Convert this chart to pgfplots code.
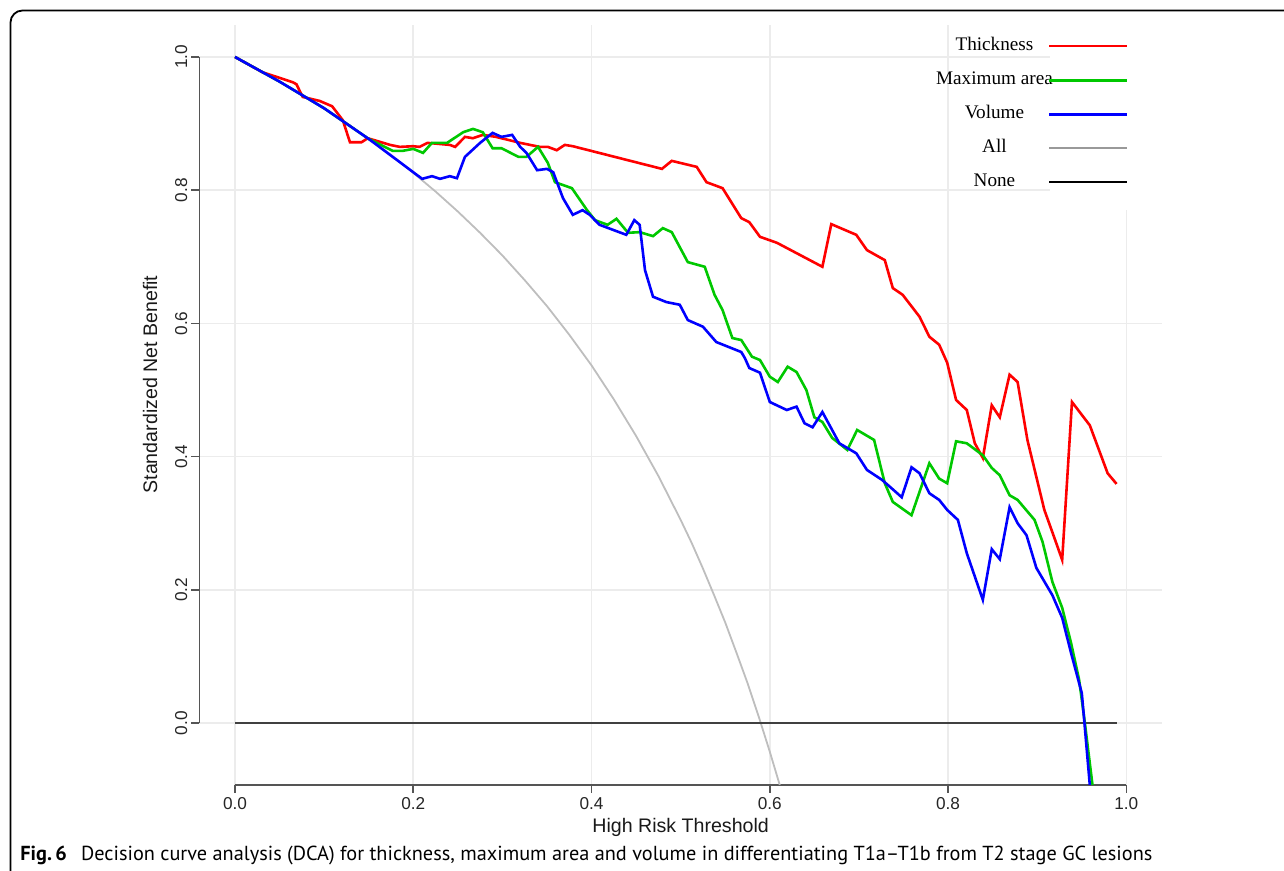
\documentclass[border=0pt]{standalone}
\usepackage{fontspec}
\setmainfont{Liberation Sans}
\newfontfamily\legfont{Liberation Serif}
\newfontfamily\capfont{PT Sans}
\usepackage{pgfplots}
\pgfplotsset{compat=1.18}
\definecolor{dcared}{RGB}{255,0,0}
\definecolor{dcagreen}{RGB}{0,200,0}
\definecolor{dcablue}{RGB}{0,0,255}
\definecolor{dcagray}{RGB}{190,190,190}
\definecolor{gridgray}{RGB}{236,236,236}
\definecolor{axisgray}{RGB}{85,85,85}
\begin{document}
\begin{tikzpicture}
\useasboundingbox (0,0) rectangle (642pt,435.5pt);
\begin{axis}[
  at={(99.65pt,43pt)}, anchor=south west, scale only axis,
  width=481.35pt, height=380pt,
  xmin=-0.04, xmax=1.04, ymin=-0.093, ymax=1.048,
  clip mode=individual,
  axis line style={draw=none},
  xtick={0,0.2,0.4,0.6,0.8,1},
  ytick={0,0.2,0.4,0.6,0.8,1},
  xticklabels={0.0,0.2,0.4,0.6,0.8,1.0},
  yticklabels={0.0,0.2,0.4,0.6,0.8,1.0},
  tick pos=left, tick align=outside, major tick length=4pt,
  tick style={axisgray, line width=0.8pt},
  grid=major, major grid style={gridgray, line width=0.8pt},
  ticklabel style={font=\fontsize{8.6}{10}\selectfont, text=black!85, inner sep=1.8pt},
  yticklabel style={rotate=90, anchor=south},
  xticklabel style={anchor=north},
  xlabel={High Risk Threshold},
  ylabel={Standardized Net Benefit},
  label style={font=\fontsize{9.8}{12}\selectfont, text=black!90},
  xlabel style={at={(axis description cs:0.5,0)}, anchor=center, yshift=-21pt},
  ylabel style={at={(axis description cs:0,0.527)}, anchor=center, yshift=24.6pt},
  legend style={at={(axis cs:1.003,1.030)}, anchor=north east, draw=none, fill=none,
    inner sep=0pt, outer sep=0pt, row sep=7.8pt, column sep=-2.5pt,
    font=\legfont\fontsize{9.6}{11}\selectfont,
    nodes={inner sep=0pt, text height=7pt, text depth=2.2pt}},
  legend cell align=center, legend plot pos=right,
  legend image code/.code={\draw[#1] (0pt,0pt) -- (39pt,0pt);},
]
\fill[white] (axis cs:0.914,0.770) rectangle (axis cs:1.04,1.048);
\draw[axisgray, line width=0.8pt] (axis cs:-0.04,0) -- (axis cs:-0.04,1);
\draw[axisgray, line width=0.8pt] (axis cs:0,-0.093) -- (axis cs:1,-0.093);
% All
\addplot[dcagray, line width=0.9pt, forget plot] coordinates {
(0,1) (0.025,0.982) (0.05,0.963) (0.075,0.944) (0.1,0.923) (0.125,0.901) (0.15,0.877)
(0.175,0.853) (0.2,0.826) (0.225,0.798) (0.25,0.768) (0.275,0.736) (0.3,0.702)
(0.325,0.665) (0.35,0.626) (0.375,0.583) (0.4,0.537) (0.425,0.486) (0.45,0.431)
(0.475,0.371) (0.5,0.305) (0.5125,0.270) (0.525,0.232) (0.5375,0.192) (0.55,0.151)
(0.5625,0.106) (0.575,0.060) (0.5875,0.010) (0.6,-0.043) (0.6125,-0.099)};
% None
\addplot[black!75, line width=1pt, forget plot] coordinates {(0,0) (0.989,0)};
% Thickness
\addplot[dcared, line width=1.3pt, forget plot] coordinates {
(0,1) (0.031,0.977) (0.065,0.962) (0.069,0.959) (0.076,0.940) (0.095,0.934)
(0.109,0.926) (0.121,0.905) (0.129,0.872) (0.142,0.872) (0.149,0.878) (0.174,0.868)
(0.185,0.865) (0.200,0.866) (0.207,0.865) (0.216,0.871) (0.241,0.868) (0.247,0.865)
(0.258,0.880) (0.267,0.878) (0.278,0.883) (0.293,0.880) (0.320,0.871) (0.342,0.865)
(0.351,0.865) (0.361,0.860) (0.370,0.868) (0.379,0.866) (0.479,0.832) (0.490,0.844)
(0.518,0.835) (0.529,0.812) (0.547,0.803) (0.568,0.758) (0.577,0.752) (0.589,0.730)
(0.608,0.721) (0.659,0.685) (0.669,0.749) (0.697,0.733) (0.709,0.710) (0.729,0.695)
(0.738,0.653) (0.749,0.643) (0.768,0.610) (0.779,0.580) (0.790,0.568) (0.799,0.541)
(0.809,0.485) (0.821,0.470) (0.830,0.420) (0.839,0.398) (0.849,0.477) (0.858,0.459)
(0.869,0.523) (0.878,0.512) (0.889,0.425) (0.908,0.320) (0.919,0.279) (0.928,0.245)
(0.939,0.482) (0.959,0.447) (0.979,0.375) (0.989,0.359)};
% Maximum area
\addplot[dcagreen, line width=1.3pt, forget plot] coordinates {
(0,1) (0.05,0.963) (0.1,0.923) (0.15,0.877) (0.177,0.859) (0.188,0.859) (0.200,0.862)
(0.211,0.856) (0.221,0.871) (0.238,0.871) (0.256,0.887) (0.267,0.892) (0.278,0.887)
(0.289,0.863) (0.299,0.863) (0.318,0.850) (0.327,0.850) (0.340,0.865) (0.351,0.841)
(0.359,0.812) (0.378,0.803) (0.395,0.770) (0.404,0.755) (0.418,0.748) (0.428,0.757)
(0.441,0.736) (0.454,0.737) (0.469,0.731) (0.480,0.743) (0.490,0.737) (0.508,0.692)
(0.527,0.685) (0.538,0.643) (0.547,0.620) (0.558,0.578) (0.568,0.575) (0.580,0.550)
(0.589,0.545) (0.600,0.520) (0.609,0.512) (0.620,0.535) (0.630,0.527) (0.641,0.500)
(0.650,0.459) (0.659,0.452) (0.670,0.428) (0.687,0.410) (0.698,0.440) (0.717,0.425)
(0.729,0.360) (0.738,0.332) (0.759,0.312) (0.779,0.390) (0.790,0.367) (0.799,0.360)
(0.809,0.423) (0.821,0.420) (0.839,0.402) (0.849,0.383) (0.858,0.372) (0.869,0.342)
(0.878,0.335) (0.897,0.305) (0.906,0.272) (0.917,0.212) (0.928,0.173) (0.938,0.120)
(0.947,0.065) (0.953,0.005) (0.962,-0.093)};
% Volume
\addplot[dcablue, line width=1.3pt, forget plot] coordinates {
(0,1) (0.05,0.963) (0.1,0.923) (0.15,0.877) (0.21,0.817) (0.221,0.821) (0.230,0.817)
(0.241,0.821) (0.249,0.818) (0.258,0.850) (0.275,0.871) (0.289,0.886) (0.299,0.880)
(0.311,0.883) (0.320,0.865) (0.327,0.856) (0.339,0.830) (0.350,0.832) (0.357,0.827)
(0.368,0.788) (0.379,0.763) (0.390,0.770) (0.398,0.763) (0.409,0.748) (0.439,0.733)
(0.448,0.755) (0.454,0.748) (0.460,0.680) (0.469,0.640) (0.484,0.632) (0.499,0.628)
(0.508,0.605) (0.525,0.595) (0.540,0.572) (0.568,0.557) (0.572,0.548) (0.577,0.533)
(0.589,0.526) (0.600,0.482) (0.619,0.470) (0.630,0.475) (0.639,0.450) (0.648,0.444)
(0.659,0.467) (0.678,0.420) (0.697,0.405) (0.709,0.380) (0.726,0.365) (0.748,0.339)
(0.759,0.384) (0.768,0.375) (0.779,0.345) (0.790,0.335) (0.799,0.320) (0.811,0.305)
(0.821,0.255) (0.839,0.185) (0.849,0.261) (0.858,0.246) (0.869,0.324) (0.878,0.300)
(0.888,0.282) (0.899,0.233) (0.917,0.192) (0.928,0.158) (0.938,0.105) (0.950,0.045)
(0.953,0.000) (0.959,-0.093)};
\addlegendimage{dcared, line width=1.3pt}\addlegendentry{Thickness}
\addlegendimage{dcagreen, line width=1.6pt}\addlegendentry{Maximum area}
\addlegendimage{dcablue, line width=1.6pt}\addlegendentry{Volume}
\addlegendimage{black!40, line width=1.1pt}\addlegendentry{All}
\addlegendimage{black, line width=1.3pt}\addlegendentry{None}
\end{axis}
\draw[line width=0.9pt, rounded corners=6pt] (5.25pt,-20pt) -- (5.25pt,430.25pt) -- (700pt,430.25pt);
\node[anchor=base west, inner sep=0pt] at (10pt,5pt) {\resizebox{566pt}{!}{\capfont\textbf{Fig.\,6}\hspace{0.7em}Decision curve analysis (DCA) for thickness, maximum area and volume in differentiating T1a–T1b from T2 stage GC lesions}};
\end{tikzpicture}
\end{document}
